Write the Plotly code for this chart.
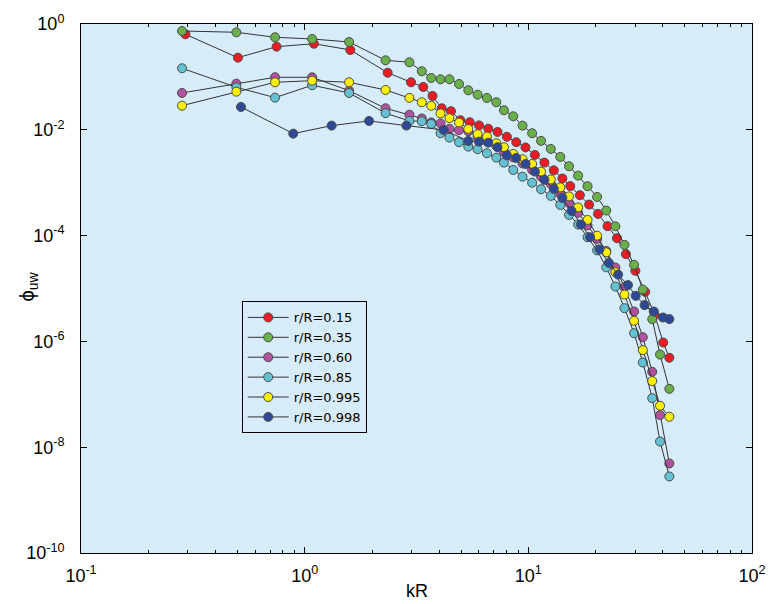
import plotly.graph_objects as go

# Wavenumber grid shared by most radial positions
kr = [0.283, 0.495, 0.737, 1.08, 1.58, 2.30, 2.94, 3.34, 3.68, 4.05, 4.44, 4.90,
      5.39, 5.93, 6.53, 7.19, 7.78, 8.56, 9.42, 10.4, 11.4, 12.6, 13.9, 15.2,
      16.7, 18.4, 20.3, 22.3, 24.5, 26.9, 29.7, 32.5, 35.8, 38.8, 42.7]

kr_015 = [0.293, 0.503, 0.749, 1.10, 1.60, 2.35, 2.99, 3.39, 3.73, 4.10, 4.51, 4.97,
          5.47, 6.02, 6.62, 7.28, 8.02, 8.83, 9.71, 10.7, 11.8, 13.0, 14.2, 15.4,
          17.0, 18.7, 20.5, 22.6, 24.9, 27.3, 30.1, 33.3, 36.7, 40.1, 42.7]

kr_0998 = [0.519, 0.889, 1.32, 1.94, 2.85, 4.18, 5.39, 6.02, 6.62, 7.28, 8.02, 8.83,
           9.72, 10.7, 11.8, 13.0, 14.2, 15.6, 17.2, 18.9, 20.8, 22.9, 25.2, 27.9,
           30.2, 33.1, 36.4, 40.0, 42.7]

phi_015 = [0.639, 0.231, 0.373, 0.424, 0.323, 0.120, 0.0791, 0.0645, 0.0436, 0.0255,
           0.0225, 0.0152, 0.0139, 0.0121, 0.0105, 0.00911, 0.00739, 0.00582, 0.00464,
           0.00335, 0.00240, 0.00171, 0.00120, 8.62e-4, 5.80e-4, 3.86e-4, 2.57e-4,
           1.51e-4, 8.94e-5, 4.46e-5, 2.16e-5, 8.64e-6, 3.18e-6, 9.52e-7, 4.90e-7]

phi_035 = [0.738, 0.697, 0.561, 0.521, 0.457, 0.206, 0.189, 0.128, 0.0955, 0.0902,
           0.0902, 0.0735, 0.0558, 0.0461, 0.0400, 0.0332, 0.0234, 0.0180, 0.0120,
           0.00861, 0.00617, 0.00435, 0.00307, 0.00205, 0.00136, 8.59e-4, 5.38e-4,
           2.97e-4, 1.50e-4, 6.68e-5, 2.80e-5, 9.55e-6, 2.64e-6, 5.65e-7, 1.27e-7]

phi_060 = [0.0497, 0.0745, 0.0984, 0.0984, 0.0549, 0.0255, 0.0193, 0.0164, 0.0138,
           0.0132, 0.0104, 0.00985, 0.00939, 0.00733, 0.00603, 0.00496, 0.00382,
           0.00300, 0.00231, 0.00174, 0.00130, 9.49e-4, 6.14e-4, 4.10e-4, 2.69e-4,
           1.56e-4, 8.67e-5, 5.14e-5, 2.49e-5, 1.06e-5, 3.67e-6, 1.20e-6, 2.66e-7,
           4.05e-8, 4.93e-9]

phi_085 = [0.1455, 0.0637, 0.0405, 0.0695, 0.0497, 0.0206, 0.0147, 0.0145, 0.0129,
           0.00861, 0.00711, 0.00582, 0.00481, 0.00429, 0.00361, 0.00298, 0.00240,
           0.00174, 0.00130, 0.00100, 7.53e-4, 5.63e-4, 3.80e-4, 2.46e-4, 1.62e-4,
           9.33e-5, 5.26e-5, 2.51e-5, 1.09e-5, 4.25e-6, 1.43e-6, 3.99e-7, 8.48e-8,
           1.28e-8, 2.80e-9]

phi_0995 = [0.0286, 0.0526, 0.0791, 0.0849, 0.0791, 0.0566, 0.0403, 0.0332, 0.0285,
            0.0204, 0.0166, 0.0137, 0.0104, 0.00824, 0.00743, 0.00557, 0.00468,
            0.00350, 0.00278, 0.00226, 0.00162, 0.00115, 8.15e-4, 5.51e-4, 3.41e-4,
            1.98e-4, 9.97e-5, 4.82e-5, 2.04e-5, 7.69e-6, 2.45e-6, 6.84e-7, 1.78e-7,
            6.07e-8, 3.76e-8]

phi_0998 = [0.0270, 0.00846, 0.0120, 0.0147, 0.0120, 0.00994, 0.00616, 0.00597,
            0.00572, 0.00468, 0.00328, 0.00294, 0.00226, 0.00162, 0.00113, 7.63e-4,
            5.16e-4, 2.93e-4, 1.62e-4, 9.33e-5, 5.49e-5, 3.05e-5, 1.83e-5, 1.16e-5,
            7.26e-6, 4.85e-6, 3.67e-6, 2.83e-6, 2.64e-6]

series = [
    ("r/R=0.15", kr_015, phi_015, "#ED1C24"),
    ("r/R=0.35", kr, phi_035, "#6AB04A"),
    ("r/R=0.60", kr, phi_060, "#B2519F"),
    ("r/R=0.85", kr, phi_085, "#62C2D2"),
    ("r/R=0.995", kr, phi_0995, "#FFF100"),
    ("r/R=0.998", kr_0998, phi_0998, "#2E4898"),
]

x_ticks = [0.1, 1, 10, 100]
x_ticktext = ["10<sup>-1</sup>", "10<sup>0</sup>", "10<sup>1</sup>", "10<sup>2</sup>"]
y_ticks = [1e-10, 1e-8, 1e-6, 1e-4, 1e-2, 1]
y_ticktext = ["10<sup>-10</sup>", "10<sup>-8</sup>", "10<sup>-6</sup>",
              "10<sup>-4</sup>", "10<sup>-2</sup>", "10<sup>0</sup>"]
x_minor = [m * 10 ** e for e in (-1, 0, 1) for m in range(2, 10)]

FONT = "Liberation Sans, Arial, Helvetica, sans-serif"
LEGEND_FONT = "DejaVu Sans, Liberation Sans, sans-serif"

fig = go.Figure()
for name, xs, ys, color in series:
    fig.add_trace(go.Scatter(
        x=xs, y=ys, name=name, mode="lines+markers",
        line=dict(color="#333333", width=1),
        marker=dict(size=9, color=color, line=dict(color="#4a4a4a", width=1)),
    ))

axis_common = dict(
    type="log", showgrid=False, zeroline=False, automargin=False,
    showline=True, linecolor="black", linewidth=1, mirror="ticks",
    ticks="inside", ticklen=6, tickcolor="black", tickwidth=1,
    tickfont=dict(family=FONT, size=18, color="black"),
)

fig.update_layout(
    template="none",
    width=770, height=604,
    margin=dict(l=81, r=18, t=24, b=51, pad=0),
    paper_bgcolor="white", plot_bgcolor="#D6ECF9",
    font=dict(family=FONT, color="black"),
    showlegend=True,
    legend=dict(
        x=0.2395, y=0.4755, xanchor="left", yanchor="top",
        bgcolor="rgba(0,0,0,0)", bordercolor="black", borderwidth=1,
        itemwidth=41,
        font=dict(family=LEGEND_FONT, size=13, color="black"),
    ),
    xaxis=dict(
        range=[-1, 2], tickmode="array", tickvals=x_ticks, ticktext=x_ticktext,
        minor=dict(tickmode="array", tickvals=x_minor, ticks="inside", ticklen=3,
                   tickcolor="black"),
        ticklabelstandoff=6,
        **axis_common,
    ),
    yaxis=dict(
        range=[-10, 0], tickmode="array", tickvals=y_ticks, ticktext=y_ticktext,
        ticklabelstandoff=12,
        **axis_common,
    ),
    annotations=[
        dict(text="kR", xref="paper", yref="paper", x=0.5, y=-0.071,
             xanchor="center", yanchor="middle", showarrow=False,
             font=dict(family=FONT, size=18)),
        dict(text="ϕ<sub>uw</sub>", xref="paper", yref="paper", x=-0.078, y=0.503,
             xanchor="center", yanchor="middle", showarrow=False, textangle=-90,
             font=dict(family=FONT, size=20)),
    ],
)

fig.write_html("out.html")
